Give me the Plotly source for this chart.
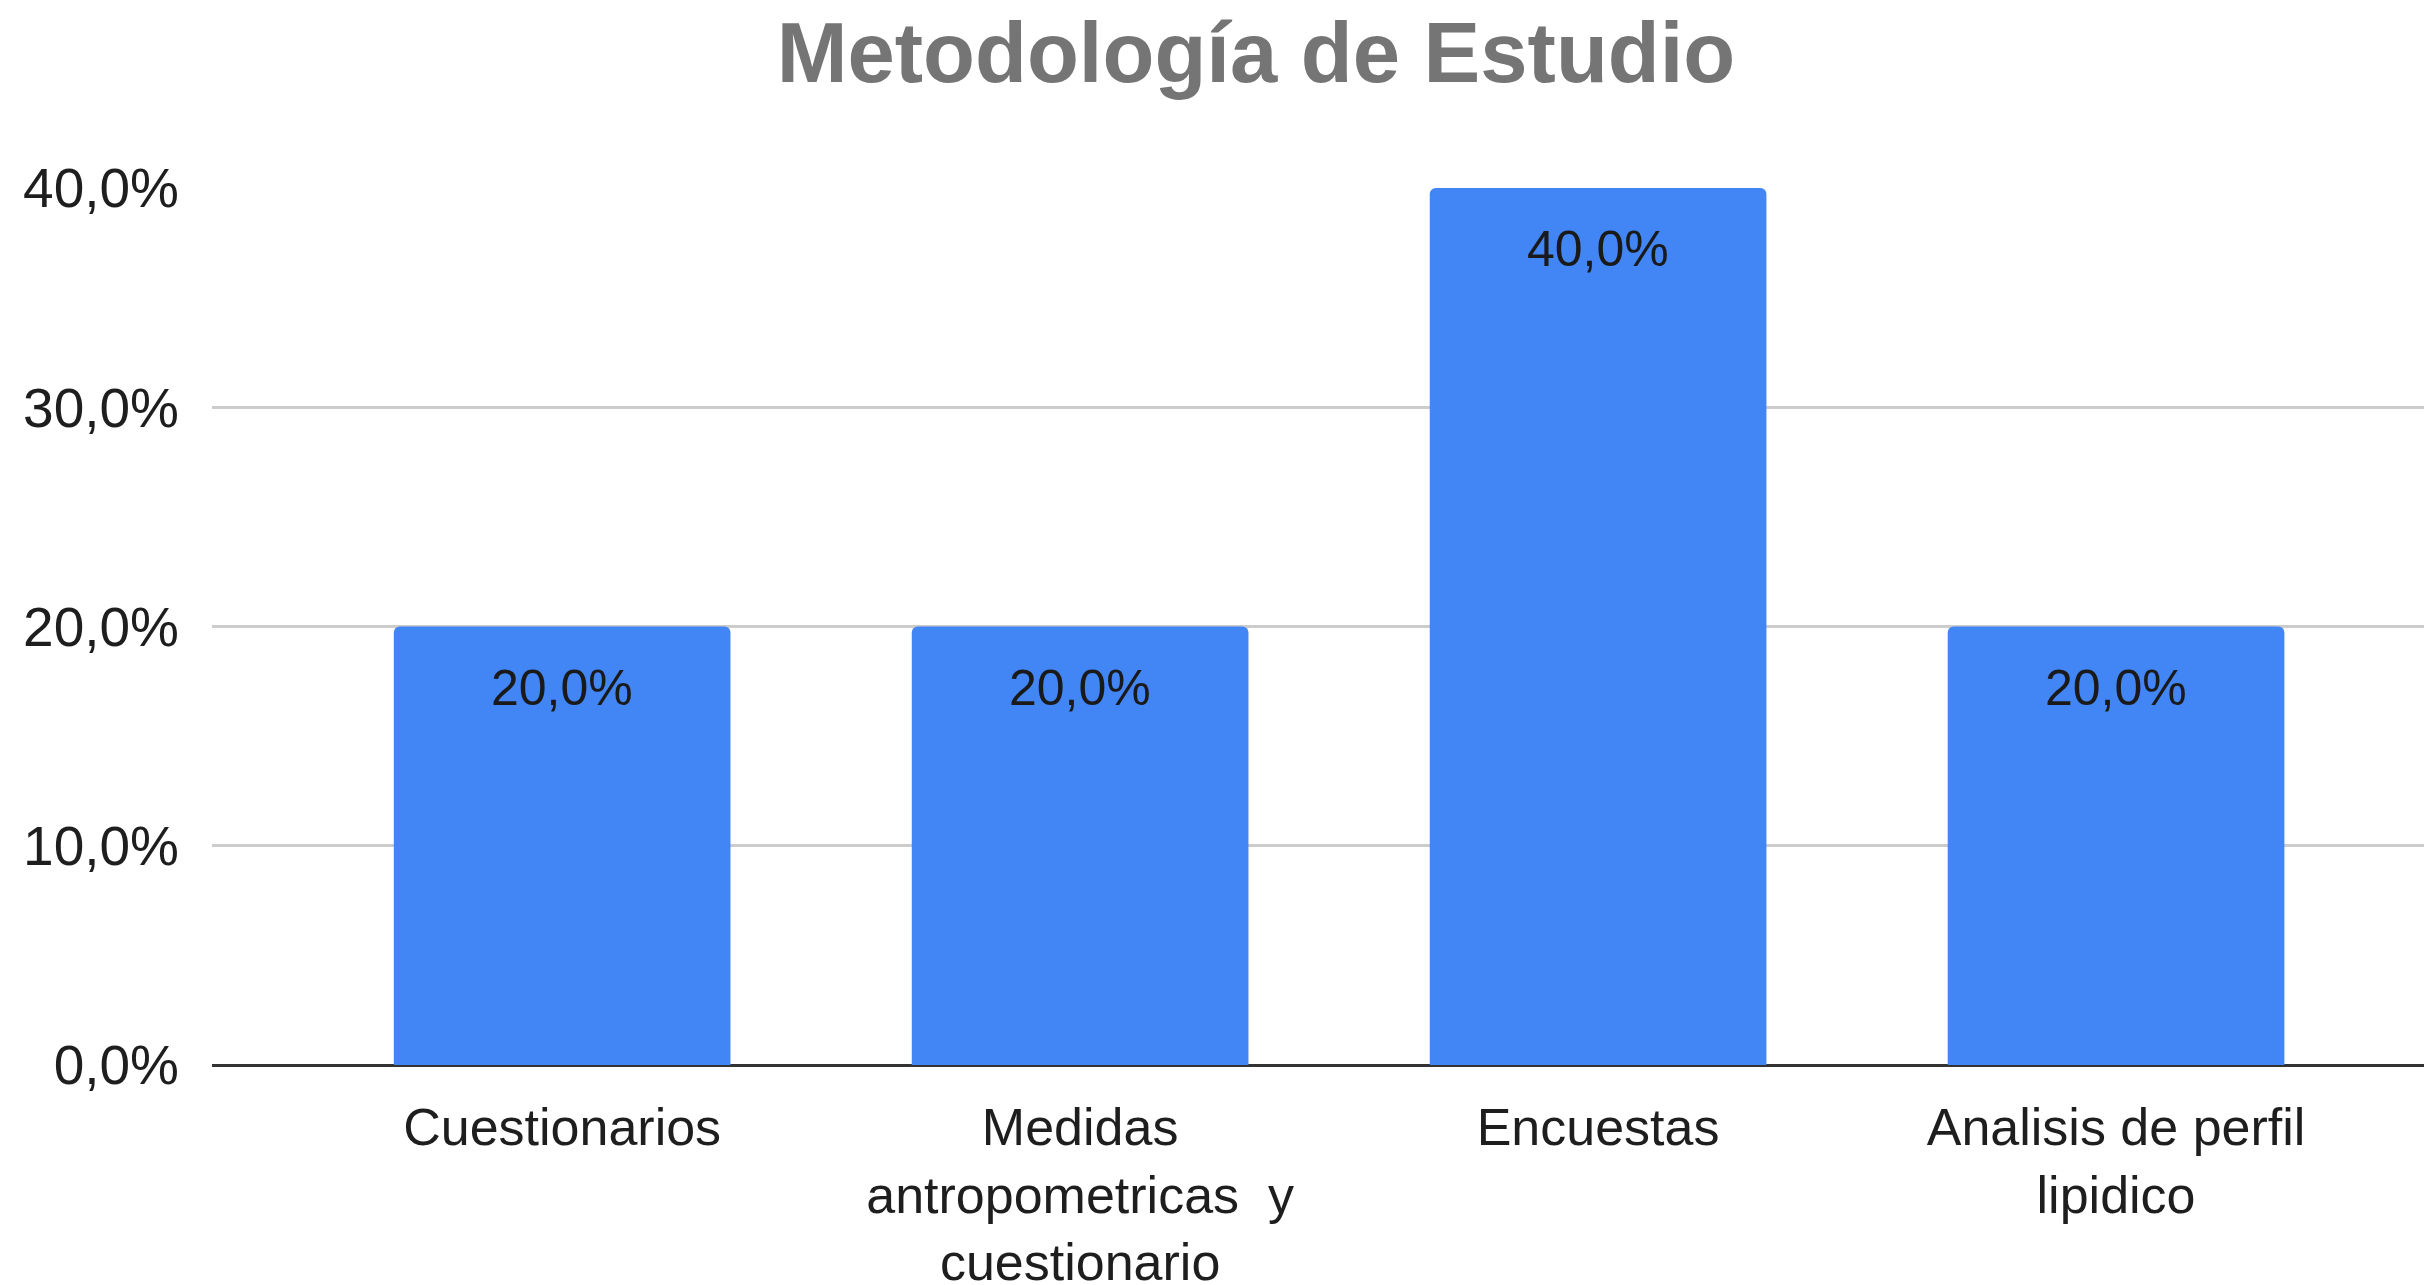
import plotly.graph_objects as go

categories = ["Cuestionarios", "Medidas<br>antropometricas  y<br>cuestionario", "Encuestas", "Analisis de perfil<br>lipidico"]
values = [0.20, 0.20, 0.40, 0.20]
y_ticks = [0.0, 0.1, 0.2, 0.3, 0.4]
title_text = "Metodología de Estudio"

# the page body adds an 8px margin, so the figure is drawn 8px smaller
OFF = 8
W, H = 2432 - OFF, 1285 - OFF
FONT = "Liberation Sans, Arial, sans-serif"

fig = go.Figure()
fig.add_trace(go.Bar(
    x=list(range(len(categories))),
    y=values,
    marker=dict(color="#4285F4", cornerradius=6, line=dict(width=0)),
    width=0.65,
    hoverinfo="skip",
))

for i, v in enumerate(values):
    fig.add_annotation(
        x=i, y=v, xref="x", yref="y",
        text=f"{v*100:.1f}%".replace(".", ","),
        showarrow=False, yanchor="middle", yshift=-61,
        font=dict(family=FONT, size=50, color="#1a1a1a"),
    )

fig.update_layout(
    width=W, height=H,
    paper_bgcolor="white", plot_bgcolor="white",
    separators=",.",
    margin=dict(l=212 - OFF, r=0, t=188 - OFF, b=220, pad=0, autoexpand=False),
    showlegend=False,
    title=dict(text=f"<b>{title_text}</b>", x=(1256 - OFF) / W, xref="container", xanchor="center",
               y=1 - (52 - OFF) / H, yref="container", yanchor="middle",
               font=dict(family=FONT, size=85, color="#757575")),
    font=dict(family=FONT, size=55, color="#1e1e1e"),
)
fig.update_xaxes(
    range=[-0.676, 3.61], automargin=False,
    tickmode="array", tickvals=list(range(len(categories))), ticktext=categories,
    showgrid=False, zeroline=False, showline=False, ticks="",
    tickfont=dict(family=FONT, size=52, color="#1e1e1e"),
    ticklabelstandoff=27,
)
fig.update_yaxes(
    range=[0, 0.4], automargin=False,
    tickmode="array", tickvals=y_ticks, tickformat=".1%",
    showgrid=True, gridcolor="#cccccc", gridwidth=2.5,
    zeroline=True, zerolinecolor="#333333", zerolinewidth=3,
    showline=False, ticks="",
    tickfont=dict(family=FONT, size=55, color="#1e1e1e"),
    ticklabelstandoff=32,
)

fig.write_html("out.html")
